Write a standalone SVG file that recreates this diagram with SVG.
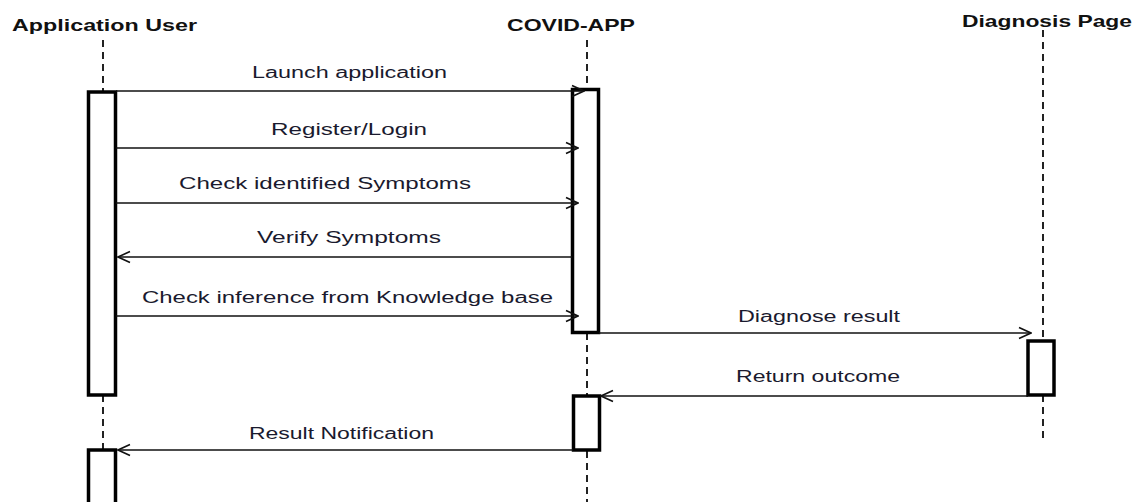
<svg xmlns="http://www.w3.org/2000/svg" width="1142" height="502" viewBox="0 0 1142 502">
<style>
.title{font-family:"Liberation Sans",Arial,sans-serif;font-weight:bold;font-size:17px;fill:#111}
.lbl{font-family:"Liberation Sans",Arial,sans-serif;font-size:16px;fill:#1a1a2e}
.life{stroke:#222;stroke-width:2;stroke-dasharray:7,5;fill:none}
.act{fill:#fff;stroke:#000;stroke-width:3.5}
.msg{stroke:#111;stroke-width:1.6;fill:none}
</style>
<defs>
<marker id="open" viewBox="0 0 14 14" refX="13" refY="7" markerWidth="14" markerHeight="14" markerUnits="userSpaceOnUse" orient="auto">
<path d="M1,1.5 L13,7 L1,12.5" fill="none" stroke="#111" stroke-width="1.6"/>
</marker>
</defs>
<rect width="1142" height="502" fill="#fff"/>
<g id="user">
<text class="title" x="12" y="31" textLength="185" lengthAdjust="spacingAndGlyphs">Application User</text>
<line class="life" x1="103" y1="40" x2="103" y2="91" stroke="#666"/>
<line class="life" x1="103" y1="395" x2="103" y2="449"/>
<rect class="act" x="88.5" y="92" width="27" height="303"/>
<rect class="act" x="88.5" y="450" width="27" height="60"/>
</g>
<g id="covid">
<text class="title" x="507" y="31" textLength="128" lengthAdjust="spacingAndGlyphs">COVID-APP</text>
<line class="life" x1="587" y1="40" x2="587" y2="89"/>
<line class="life" x1="587" y1="333" x2="587" y2="395"/>
<line class="life" x1="587" y1="451" x2="587" y2="502"/>
<rect class="act" x="572.5" y="89.5" width="26" height="243"/>
<rect class="act" x="573.5" y="396" width="26" height="54"/>
</g>
<g id="diagnosis">
<text class="title" x="962" y="27" textLength="170" lengthAdjust="spacingAndGlyphs">Diagnosis Page</text>
<line class="life" x1="1043" y1="30" x2="1043" y2="341"/>
<line class="life" x1="1043" y1="395" x2="1043" y2="441"/>
<rect class="act" x="1028" y="341" width="26" height="54"/>
</g>
<g id="connectors">
<line class="msg" x1="116" y1="91" x2="584" y2="91" marker-end="url(#open)"/>
<line class="msg" x1="116" y1="148" x2="578" y2="148" marker-end="url(#open)"/>
<line class="msg" x1="116" y1="203" x2="578" y2="203" marker-end="url(#open)"/>
<line class="msg" x1="572" y1="257" x2="118" y2="257" marker-end="url(#open)"/>
<line class="msg" x1="116" y1="316" x2="578" y2="316" marker-end="url(#open)"/>
<line class="msg" x1="599" y1="333" x2="1031" y2="333" marker-end="url(#open)"/>
<line class="msg" x1="1028" y1="396" x2="601" y2="396" marker-end="url(#open)"/>
<line class="msg" x1="573" y1="450" x2="118" y2="450" marker-end="url(#open)"/>
<text class="lbl" x="252" y="78" textLength="195" lengthAdjust="spacingAndGlyphs">Launch  application</text>
<text class="lbl" x="271" y="135" textLength="156" lengthAdjust="spacingAndGlyphs">Register/Login</text>
<text class="lbl" x="179" y="189" textLength="292" lengthAdjust="spacingAndGlyphs">Check identified Symptoms</text>
<text class="lbl" x="257" y="243" textLength="184" lengthAdjust="spacingAndGlyphs">Verify Symptoms</text>
<text class="lbl" x="142" y="303" textLength="411" lengthAdjust="spacingAndGlyphs">Check inference from Knowledge base</text>
<text class="lbl" x="738" y="322" textLength="162" lengthAdjust="spacingAndGlyphs">Diagnose result</text>
<text class="lbl" x="736" y="382" textLength="164" lengthAdjust="spacingAndGlyphs">Return outcome</text>
<text class="lbl" x="249" y="439" textLength="185" lengthAdjust="spacingAndGlyphs">Result Notification</text>
</g>
</svg>
